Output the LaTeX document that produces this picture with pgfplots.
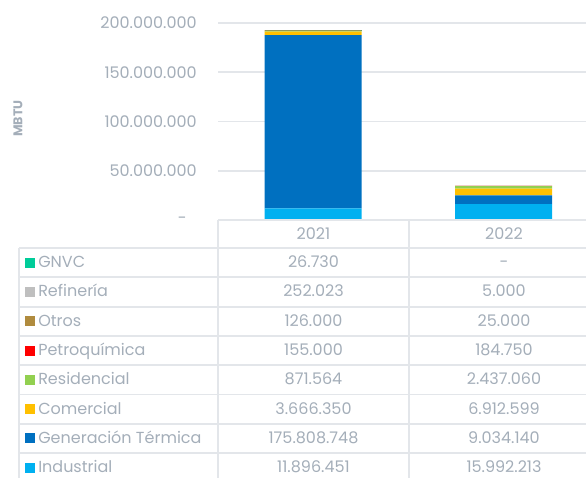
\documentclass[border=0pt]{standalone}
\usepackage{pgfplots}
\pgfplotsset{compat=1.18}
\usepackage{fontspec}
\setmainfont{Poppins}
\definecolor{txt}{HTML}{A4AEB9}
\definecolor{grd}{HTML}{E3E6EA}
\definecolor{cInd}{HTML}{00B0F0}
\definecolor{cGen}{HTML}{0070C0}
\definecolor{cCom}{HTML}{FFC000}
\definecolor{cRes}{HTML}{92D050}
\definecolor{cPet}{HTML}{FF0000}
\definecolor{cOtr}{HTML}{B08B3E}
\definecolor{cRef}{HTML}{BFBFBF}
\definecolor{cGNV}{HTML}{00CC99}
\begin{document}
\begin{tikzpicture}
\path[use as bounding box] (0pt,0pt) rectangle (439.5pt,-358.5pt);
\begin{axis}[
  at={(163.5pt,-165pt)}, anchor=south west,
  scale only axis, width=276pt, height=147.75pt,
  ybar stacked, bar width=72.75pt,
  xmin=-0.5, xmax=1.432, ymin=0, ymax=2e8,
  xtick=\empty,
  scaled y ticks=false,
  ytick={0,5e7,1e8,1.5e8,2e8},
  yticklabels={{-\kern7.5pt},50.000.000,100.000.000,150.000.000,200.000.000},
  ymajorgrids, grid style={grd, line width=1.4pt},
  axis line style={draw=none}, major tick length=0pt,
  yticklabel style={anchor=east, inner sep=0pt, xshift=-15.75pt, text=txt, font=\fontsize{12}{14}\selectfont},
  ylabel={MBTU},
  every axis y label/.style={at={(rel axis cs:0,0.515)}, xshift=-150pt, rotate=90, anchor=center, text=txt, font=\bfseries\fontsize{9.5}{11}\selectfont},
  clip=false,
]
\addplot[fill=cInd, draw=none] coordinates {(0,11896451) (1,15992213)};
\addplot[fill=cGen, draw=none] coordinates {(0,175808748) (1,9034140)};
\addplot[fill=cCom, draw=none] coordinates {(0,3666350) (1,6912599)};
\addplot[fill=cRes, draw=none] coordinates {(0,871564) (1,2437060)};
\addplot[fill=cPet, draw=none] coordinates {(0,155000) (1,184750)};
\addplot[fill=cOtr, draw=none] coordinates {(0,126000) (1,25000)};
\addplot[fill=cRef, draw=none] coordinates {(0,252023) (1,5000)};
\addplot[fill=cGNV, draw=none] coordinates {(0,26730) (1,0)};
\end{axis}
\begin{scope}[x=0.75pt,y=-0.75pt]
  \draw[grd, line width=1.4pt] (218,220) -- (586,220);
  \foreach \k in {0,...,7} { \draw[grd, line width=1.4pt] (19,248+29.3*\k) -- (586,248+29.3*\k); }
  \draw[grd, line width=1.4pt] (19,248) -- (19,480);
  \draw[grd, line width=1.4pt] (218,220) -- (218,480);
  \draw[grd, line width=1.4pt] (409,220) -- (409,480);
  \tikzset{tt/.style={text=txt, font=\fontsize{12}{14}\selectfont, inner sep=0pt}}
  \node[tt] at (313.5,234) {2021};
  \node[tt] at (504,234) {2022};
  \foreach \k/\nm/\cc/\va/\vb in {
     0/GNVC/cGNV/26.730/-,
     1/Refinería/cRef/252.023/5.000,
     2/Otros/cOtr/126.000/25.000,
     3/Petroquímica/cPet/155.000/184.750,
     4/Residencial/cRes/871.564/2.437.060,
     5/Comercial/cCom/3.666.350/6.912.599,
     6/Generación Térmica/cGen/175.808.748/9.034.140,
     7/Industrial/cInd/11.896.451/15.992.213} {
    \fill[\cc] (25,257.6+29.3*\k) rectangle (35,267.6+29.3*\k);
    \node[tt, anchor=base west] at (38,267.6+29.3*\k) {\nm};
    \node[tt, anchor=base] at (313.5,267.6+29.3*\k) {\va};
    \node[tt, anchor=base] at (504,267.6+29.3*\k) {\vb};
  }
\end{scope}
\end{tikzpicture}
\end{document}
